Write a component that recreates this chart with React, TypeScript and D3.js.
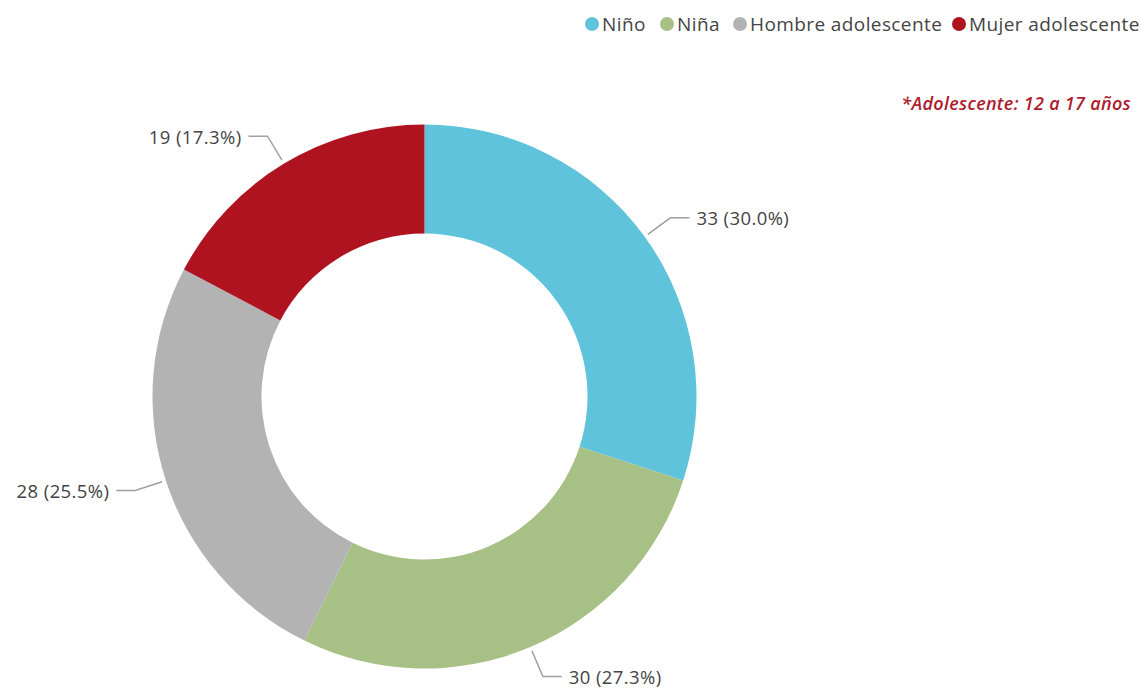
import React from "react";
import * as d3 from "d3";

const categories = ["Niño", "Niña", "Hombre adolescente", "Mujer adolescente"];
const values = [33, 30, 28, 19];
const colors = ["#5FC3DB", "#A6C085", "#B3B3B3", "#AE131F"];
const legendX = [592, 667, 740, 959];
const note = "*Adolescente: 12 a 17 años";

const W = 1141;
const H = 690;
const cx = 424.5;
const cy = 396.5;
const rOuter = 272;
const rInner = 163;
const FONT = "'Segoe UI', 'Open Sans', 'Noto Sans', sans-serif";

export default function App() {
  const total = d3.sum(values);
  const pie = d3.pie<number>().sort(null).value((d) => d)(values);
  const arc = d3.arc<d3.PieArcDatum<number>>().innerRadius(rInner).outerRadius(rOuter);
  const pt = (a: number, r: number): [number, number] => [cx + r * Math.sin(a), cy - r * Math.cos(a)];

  return (
    <svg width={W} height={H} style={{ position: "absolute", left: 0, top: 0, background: "#fff" }}>
      <g>
        {pie.map((p, i) => (
          <path key={i} d={arc(p) || ""} transform={`translate(${cx},${cy})`} fill={colors[i]} />
        ))}
      </g>
      <g>
        {pie.map((p, i) => {
          const mid = (p.startAngle + p.endAngle) / 2;
          const right = Math.sin(mid) >= 0;
          const p1 = pt(mid, rOuter + 4);
          const p2 = pt(mid, rOuter + 32);
          const p3: [number, number] = [p2[0] + (right ? 19 : -19), p2[1]];
          const tx = p3[0] + (right ? 7 : -7);
          const pct = ((values[i] / total) * 100).toFixed(1);
          return (
            <g key={i}>
              <polyline
                points={[p1, p2, p3].map((q) => q.join(",")).join(" ")}
                fill="none"
                stroke="#A0A0A0"
                strokeWidth={1.5}
              />
              <text
                x={tx}
                y={p3[1] + 1}
                dy="0.35em"
                textAnchor={right ? "start" : "end"}
                fontFamily={FONT}
                fontSize={18.5}
                letterSpacing={0.4}
                fill="#444"
              >
                {`${values[i]} (${pct}%)`}
              </text>
            </g>
          );
        })}
      </g>
      <g>
        {categories.map((c, i) => (
          <g key={c}>
            <circle cx={legendX[i]} cy={24} r={7} fill={colors[i]} />
            <text
              x={legendX[i] + 10}
              y={24}
              dy="0.35em"
              fontFamily={FONT}
              fontSize={19}
              letterSpacing={0.4}
              fill="#444"
            >
              {c}
            </text>
          </g>
        ))}
      </g>
      <text
        x={1131}
        y={104}
        dy="0.35em"
        textAnchor="end"
        fontFamily={FONT}
        fontSize={18}
        letterSpacing={0.3}
        fontStyle="italic"
        fontWeight={600}
        fill="#AE1A2E"
      >
        {note}
      </text>
    </svg>
  );
}
